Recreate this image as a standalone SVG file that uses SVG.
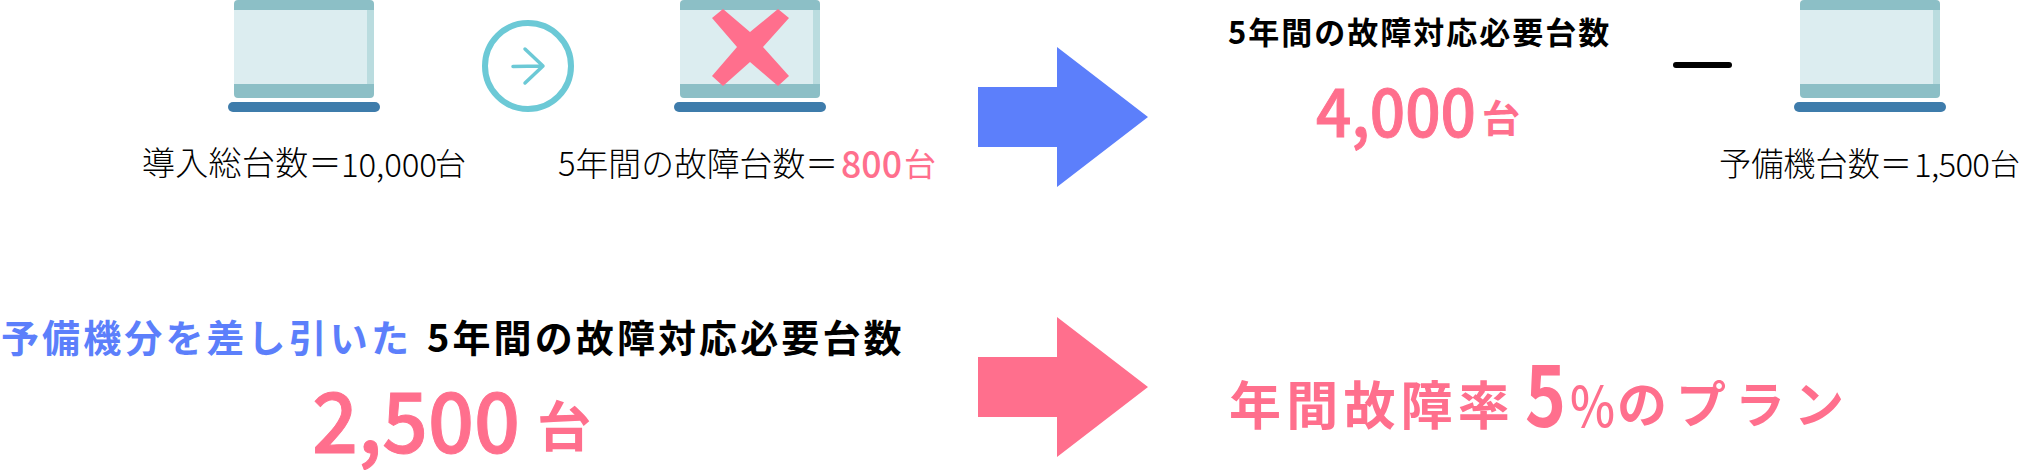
<svg xmlns="http://www.w3.org/2000/svg" width="2022" height="470" viewBox="0 0 2022 470">
<style>
text{font-family:"Noto Sans CJK JP","Noto Sans",sans-serif;fill:#000}
.l{font-size:33px;font-weight:300}
.b{font-weight:700}
.m{font-weight:500}
.h{font-size:38px;font-weight:700;letter-spacing:3.100px}
.p{fill:#ff6f8d}
.s{stroke:#ff6f8d;stroke-width:1px}
.blue{fill:#5c7ffb}
</style>
<defs>
<g id="laptop">
<rect x="0" y="8" width="140" height="78" fill="#dcedf0"/>
<rect x="133" y="8" width="7" height="78" fill="#badcdf"/>
<path d="M0 10V4Q0 0 4 0H136Q140 0 140 4V10Z" fill="#8cbfc6"/>
<path d="M0 84H140V94Q140 98 136 98H4Q0 98 0 94Z" fill="#8cbfc6"/>
<rect x="-6" y="102" width="152" height="10" rx="5" fill="#3e7cab"/>
</g>
</defs>
<g id="connectors">
<path id="arrow-blue" d="M978 87H1057V47L1148 117L1057 187V147H978Z" fill="#5c7ffb"/>
<path id="arrow-pink" d="M978 357H1057V317L1148 387L1057 457V417H978Z" fill="#ff6f8d"/>
<g id="arrow-circle" fill="none" stroke="#6cc9d6">
<circle cx="528" cy="66" r="43" stroke-width="6"/>
<path d="M513 66.500L542 66M525 49L543 66L525 83" stroke-width="3.500" stroke-linecap="round" stroke-linejoin="round"/>
</g>
<rect id="minus" x="1673" y="62" width="59" height="6" rx="3" fill="#000"/>
</g>
<g id="node-total">
<use href="#laptop" x="234" y="0"/>
<text class="l" x="142" y="175" letter-spacing=".300">導入総台数＝</text>
<text class="l" x="341" y="177" textLength="96">10,000</text>
<text class="l" x="435" y="175" style="font-size:31px">台</text>
</g>
<g id="node-failed">
<use href="#laptop" x="680" y="0"/>
<path d="M712 18L723 9L750 32L778 9L789 18L763 47L789 76L778 86L750 62L723 86L712 76L737 47Z" fill="#ff6f8d"/>
<text class="l" x="558" y="176" textLength="280" lengthAdjust="spacingAndGlyphs">5年間の故障台数＝</text>
<text class="p m" x="841" y="178" font-size="38" textLength="61" lengthAdjust="spacingAndGlyphs">800</text>
<text class="p" x="904" y="176" font-size="32" font-weight="400">台</text>
</g>
<g id="node-required">
<text class="b" x="1228" y="44" font-size="31" letter-spacing="2">5年間の故障対応必要台数</text>
<text class="p m s" x="1316" y="137" font-size="67" textLength="160" lengthAdjust="spacingAndGlyphs">4,000</text>
<text class="p b" x="1482" y="132" font-size="38">台</text>
</g>
<g id="node-spare">
<use href="#laptop" x="1800" y="0"/>
<text class="l" x="1719" y="176" textLength="193" lengthAdjust="spacingAndGlyphs">予備機台数＝</text>
<text class="l" x="1914" y="177" textLength="76">1,500</text>
<text class="l" x="1990" y="175" style="font-size:30px">台</text>
</g>
<g id="node-result">
<text class="h blue" x="1" y="352">予備機分を差し引いた</text>
<text class="h" x="427" y="352">5年間の故障対応必要台数</text>
<text class="p m s" x="312" y="453" font-size="84" textLength="208" lengthAdjust="spacingAndGlyphs">2,500</text>
<text class="p b" x="537" y="447" font-size="54">台</text>
</g>
<g id="node-plan">
<text class="p b" x="1229" y="425" font-size="52" letter-spacing="5.200">年間故障率</text>
<text class="p b" x="1525" y="427" font-size="86" textLength="41" lengthAdjust="spacingAndGlyphs">5</text>
<text class="p m" x="1570" y="427" font-size="56" textLength="45" lengthAdjust="spacingAndGlyphs">%</text>
<text class="p b" x="1617" y="423" font-size="50" letter-spacing="9">のプラン</text>
</g>
</svg>
